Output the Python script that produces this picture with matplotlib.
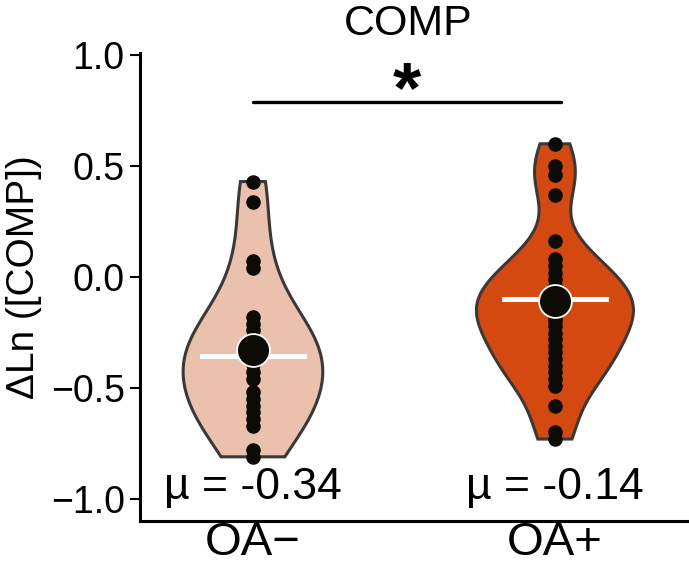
import numpy as np
import matplotlib.pyplot as plt

plt.rcParams['font.family'] = ['Liberation Sans', 'DejaVu Sans']

# data (a few points sit hidden under the big dot)
groups = ['OA\u2212', 'OA+']
oa_neg = [0.43, 0.34, 0.07, 0.04, -0.18, -0.21, -0.24, -0.27, -0.30,
          -0.33, -0.36, -0.39, -0.43, -0.46, -0.52, -0.55, -0.58, -0.61,
          -0.64, -0.67, -0.78, -0.81]
oa_pos = [0.60, 0.50, 0.46, 0.37, 0.16, 0.08, 0.05, 0.02, -0.01,
          -0.04, -0.06, -0.08, -0.10, -0.12, -0.14, -0.16, -0.18, -0.20,
          -0.22, -0.25, -0.28, -0.31, -0.34, -0.37, -0.40, -0.43, -0.46,
          -0.49, -0.58, -0.70, -0.73]
big_dot = [-0.33, -0.11]
white_bar = [-0.355, -0.10]
mean_text = ['\u00b5 = -0.34', '\u00b5 = -0.14']
colors = ['#e9c1ad', '#d3490f']
yticks = [-1.0, -0.5, 0.0, 0.5, 1.0]
bw_adjust = [1.4, 1.0]


def kde(vals, grid, adjust=1.0):
    v = np.asarray(vals)
    sd = v.std(ddof=1)
    iqr = np.subtract(*np.percentile(v, [75, 25]))
    bw = adjust * 0.9 * min(sd, iqr / 1.34) * len(v) ** -0.2
    z = (grid[:, None] - v[None, :]) / bw
    return np.exp(-0.5 * z ** 2).sum(axis=1) / (len(v) * bw * np.sqrt(2 * np.pi))


fig = plt.figure(figsize=(6.89, 5.71), dpi=100)
ax = fig.add_axes([140 / 689, 49.8 / 571, 549 / 689, 488.4 / 571])

data = [oa_neg, oa_pos]
grids = [np.linspace(min(d), max(d), 300) for d in data]
dens = [kde(d, g, a) for d, g, a in zip(data, grids, bw_adjust)]
dmax = max(d.max() for d in dens)
full_w = 0.52

for i, (d, g, dn) in enumerate(zip(data, grids, dens)):
    x0 = i + 1
    hw = dn / dmax * full_w / 2
    xs = np.concatenate([x0 - hw, (x0 + hw)[::-1], [x0 - hw[0]]])
    ys = np.concatenate([g, g[::-1], [g[0]]])
    ax.fill(xs, ys, facecolor=colors[i], edgecolor='#3b3838', linewidth=2.2, zorder=1)
    ax.plot([x0 - 0.17, x0 + 0.17], [white_bar[i]] * 2, color='white', lw=3.6, zorder=2)
    ax.scatter([x0] * len(d), d, s=110, color='#0d0b06', zorder=3, linewidths=0)
    ax.scatter([x0], [big_dot[i]], s=560, color='#0d0b06', edgecolor='white', linewidths=1.3, zorder=4)
    ax.text(x0, -0.95, mean_text[i], ha='center', va='center', fontsize=32)

ax.plot([1, 2.02], [0.79, 0.79], color='black', lw=2.4, solid_capstyle='round')
ax.text(1.51, 0.83, '*', ha='center', va='center', fontsize=52, fontweight='bold')

ax.set_xlim(0.626, 2.444)
ax.set_ylim(-1.1, 1.1)
ax.set_yticks(yticks)
ax.set_yticklabels([f'{t:.1f}'.replace('-', '\u2212') for t in yticks])
ax.set_xticks([1, 2])
ax.set_xticklabels(groups)
ax.tick_params(axis='y', labelsize=27, length=7, width=1.5, pad=4)
ax.tick_params(axis='x', labelsize=34, length=0, pad=0)
for s in ['top', 'right']:
    ax.spines[s].set_visible(False)
ax.spines['left'].set_bounds(-1.1, 1.01)
ax.spines['left'].set_linewidth(2.2)
ax.spines['bottom'].set_linewidth(2.2)
ax.set_ylabel('\u0394Ln ([COMP])', fontsize=28, labelpad=6)
fig.text(408 / 689, 1 - 24 / 571, 'COMP', ha='center', va='center', fontsize=31)

fig.savefig('out.png', dpi=100)
